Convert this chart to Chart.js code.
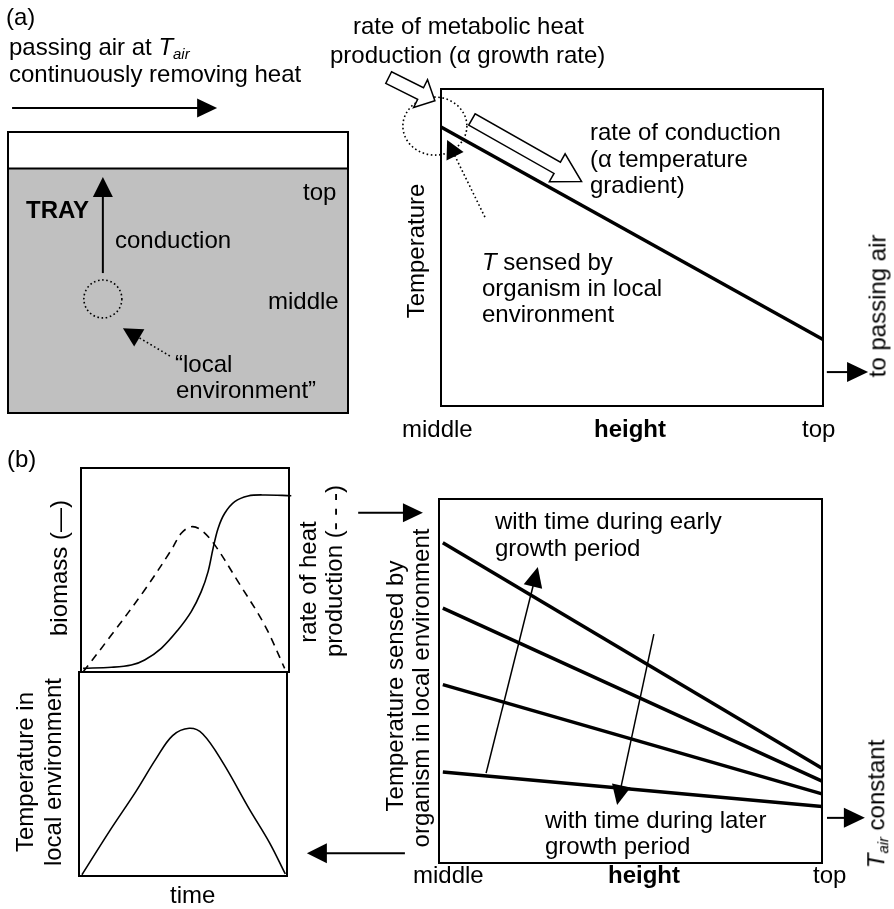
<!DOCTYPE html>
<html lang="en">
<head>
<meta charset="UTF-8">
<title>Heat conduction in a tray bioreactor</title>
<script src="https://cdn.jsdelivr.net/npm/chart.js"></script>
<style>
  body { margin: 0; background: #fff; }
  #fig {
    position: relative; width: 894px; height: 909px; overflow: hidden;
    font-family: "Liberation Sans", Arial, sans-serif; font-size: 24px; color: #000;
  }
  #fig canvas { position: absolute; left: 0; top: 0; }
  .t { position: absolute; white-space: nowrap; line-height: 27px; }
  .v { position: absolute; white-space: nowrap; line-height: 27px;
       transform: translate(-50%, -50%) rotate(-90deg); }
  .b { font-weight: bold; }
  i sub { font-size: 62%; vertical-align: -0.3em; }
</style>
</head>
<body>
<div id="fig">
  <canvas id="tray" width="894" height="909"></canvas>
  <canvas id="profileA" width="894" height="909"></canvas>
  <canvas id="growth" width="894" height="909"></canvas>
  <canvas id="localT" width="894" height="909"></canvas>
  <canvas id="profileB" width="894" height="909"></canvas>

  <!-- (a) -->
  <div class="t" style="left:6px; top:3px">(a)</div>
  <div class="t" style="left:9px; top:33px">passing air at <i>T<sub>air</sub></i></div>
  <div class="t" style="left:9px; top:60px">continuously removing heat</div>
  <div class="t b" style="left:26px; top:196px">TRAY</div>
  <div class="t" style="left:303px; top:178px">top</div>
  <div class="t" style="left:115px; top:226px">conduction</div>
  <div class="t" style="left:268px; top:287px">middle</div>
  <div class="t" style="left:175px; top:350px">&ldquo;local</div>
  <div class="t" style="left:176px; top:376px">environment&rdquo;</div>

  <div class="t" style="left:353px; top:12px">rate of metabolic heat</div>
  <div class="t" style="left:330px; top:41px">production (&alpha; growth rate)</div>
  <div class="t" style="left:590px; top:118px">rate of conduction</div>
  <div class="t" style="left:590px; top:145px">(&alpha; temperature</div>
  <div class="t" style="left:590px; top:171px">gradient)</div>
  <div class="t" style="left:482px; top:248px"><i>T</i> sensed by</div>
  <div class="t" style="left:482px; top:274px">organism in local</div>
  <div class="t" style="left:482px; top:300px">environment</div>
  <div class="v" style="left:415px; top:251px">Temperature</div>
  <div class="v" style="left:877px; top:306px">to passing air</div>
  <div class="t" style="left:402px; top:415px">middle</div>
  <div class="t b" style="left:594px; top:415px">height</div>
  <div class="t" style="left:802px; top:415px">top</div>

  <!-- (b) -->
  <div class="t" style="left:7px; top:445px">(b)</div>
  <div class="v" style="left:58px; top:568px">biomass (&mdash;)</div>
  <div class="v" style="left:307px; top:582px">rate of heat</div>
  <div class="v" style="left:333px; top:571px">production (- - -)</div>
  <div class="v" style="left:24px; top:772px">Temperature in</div>
  <div class="v" style="left:52px; top:772px">local environment</div>
  <div class="t" style="left:170px; top:881px">time</div>

  <div class="t" style="left:495px; top:507px">with time during early</div>
  <div class="t" style="left:495px; top:534px">growth period</div>
  <div class="t" style="left:545px; top:806px">with time during later</div>
  <div class="t" style="left:545px; top:832px">growth period</div>
  <div class="v" style="left:394px; top:686px">Temperature sensed by</div>
  <div class="v" style="left:420px; top:688px">organism in local environment</div>
  <div class="v" style="left:880px; top:804px"><i>T<sub>air</sub></i> constant</div>
  <div class="t" style="left:413px; top:861px">middle</div>
  <div class="t b" style="left:608px; top:861px">height</div>
  <div class="t" style="left:813px; top:861px">top</div>
</div>

<script>
  // ---- values (all axes normalised 0..1) ----
  // (a) tray: level of the solid bed as a fraction of tray depth
  const trayX = [0, 1];
  const trayLevel = [0.87, 0.87];

  // (a) right: temperature against height (middle -> top)
  const heightA = [0, 1];
  const tempA = [0.88, 0.21];

  // (b) upper left: biomass (solid) and rate of heat production (dashed) against time
  const timeBio = [0.01, 0.146, 0.242, 0.306, 0.386, 0.466, 0.530, 0.578, 0.611, 0.635, 0.659, 0.691, 0.739, 0.803, 0.883, 1.011];
  const biomass = [0.018, 0.023, 0.034, 0.059, 0.116, 0.206, 0.296, 0.394, 0.492, 0.606, 0.704, 0.778, 0.835, 0.863, 0.868, 0.864];
  const timeHeat = [0.01, 0.146, 0.306, 0.434, 0.482, 0.530, 0.578, 0.643, 0.755, 0.883, 0.979];
  const heatRate = [0.00, 0.181, 0.402, 0.598, 0.680, 0.712, 0.696, 0.623, 0.443, 0.230, 0.018];

  // (b) lower left: temperature in local environment against time
  const timeT = [0.014, 0.146, 0.274, 0.370, 0.450, 0.530, 0.595, 0.691, 0.819, 0.915, 0.992];
  const tempLocal = [0.006, 0.219, 0.415, 0.574, 0.688, 0.724, 0.696, 0.557, 0.328, 0.165, 0.010];

  // (b) right: temperature profiles at successive times, value at middle and at top
  const heightB = [0.01, 1];
  const profiles = [
    [0.88, 0.26],
    [0.70, 0.225],
    [0.49, 0.19],
    [0.25, 0.155]
  ];

  const W = 894, H = 909;
  const pts = (xs, ys) => xs.map((x, i) => ({ x: x, y: ys[i] }));

  // ---- drawing helpers (positions given in data units, turned into pixels by the scales) ----
  function P(chart, x, y) {
    return [chart.scales.x.getPixelForValue(x), chart.scales.y.getPixelForValue(y)];
  }

  function arrow(ctx, a, b, o) {
    o = Object.assign({ w: 1.5, hl: 20, hw: 20, dash: [] }, o);
    const dx = b[0] - a[0], dy = b[1] - a[1], len = Math.hypot(dx, dy);
    const ux = dx / len, uy = dy / len;
    const bx = b[0] - ux * o.hl, by = b[1] - uy * o.hl;
    ctx.save();
    ctx.strokeStyle = '#000'; ctx.fillStyle = '#000';
    ctx.lineWidth = o.w; ctx.setLineDash(o.dash);
    ctx.beginPath(); ctx.moveTo(a[0], a[1]); ctx.lineTo(bx + ux, by + uy); ctx.stroke();
    ctx.setLineDash([]);
    ctx.beginPath();
    ctx.moveTo(b[0], b[1]);
    ctx.lineTo(bx - uy * o.hw / 2, by + ux * o.hw / 2);
    ctx.lineTo(bx + uy * o.hw / 2, by - ux * o.hw / 2);
    ctx.closePath(); ctx.fill();
    ctx.restore();
  }

  function hollowArrow(ctx, a, b, sw, hw, hl) {
    const dx = b[0] - a[0], dy = b[1] - a[1], len = Math.hypot(dx, dy);
    const ux = dx / len, uy = dy / len, nx = -uy, ny = ux;
    const bx = b[0] - ux * hl, by = b[1] - uy * hl;
    const s = sw / 2, h = hw / 2;
    ctx.save();
    ctx.beginPath();
    ctx.moveTo(a[0] + nx * s, a[1] + ny * s);
    ctx.lineTo(bx + nx * s, by + ny * s);
    ctx.lineTo(bx + nx * h, by + ny * h);
    ctx.lineTo(b[0], b[1]);
    ctx.lineTo(bx - nx * h, by - ny * h);
    ctx.lineTo(bx - nx * s, by - ny * s);
    ctx.lineTo(a[0] - nx * s, a[1] - ny * s);
    ctx.closePath();
    ctx.fillStyle = '#fff'; ctx.fill();
    ctx.lineWidth = 1.5; ctx.strokeStyle = '#000'; ctx.lineJoin = 'miter'; ctx.stroke();
    ctx.restore();
  }

  function dottedRing(ctx, c, rx, ry) {
    ctx.save();
    ctx.beginPath();
    ctx.ellipse(c[0], c[1], rx, ry, 0, 0, Math.PI * 2);
    ctx.setLineDash([1.6, 2.6]); ctx.lineWidth = 1.6; ctx.strokeStyle = '#000';
    ctx.stroke();
    ctx.restore();
  }

  function frame(ctx, area) {
    ctx.save();
    ctx.lineWidth = 2; ctx.strokeStyle = '#000';
    ctx.strokeRect(area.left, area.top, area.right - area.left, area.bottom - area.top);
    ctx.restore();
  }

  function makeChart(id, box, datasets, draw) {
    const [l, t, r, b] = box;
    return new Chart(document.getElementById(id), {
      type: 'line',
      data: { datasets: datasets },
      options: {
        responsive: false,
        animation: false,
        events: [],
        layout: { padding: { left: l, top: t, right: W - r, bottom: H - b } },
        scales: {
          x: { type: 'linear', min: 0, max: 1, display: false },
          y: { type: 'linear', min: 0, max: 1, display: false }
        },
        plugins: { legend: { display: false }, tooltip: { enabled: false } },
        elements: { point: { radius: 0 } }
      },
      plugins: [{
        id: 'decor',
        afterDatasetsDraw(chart) {
          frame(chart.ctx, chart.chartArea);
          draw(chart, chart.ctx);
        }
      }]
    });
  }

  const line = (data, w, extra) => Object.assign({
    data: data, borderColor: '#000', borderWidth: w, fill: false, clip: false,
    tension: 0.35, borderCapStyle: 'butt'
  }, extra || {});

  // (a) left: the tray
  makeChart('tray', [8, 132, 348, 413], [
    line(pts(trayX, trayLevel), 2, { fill: 'origin', backgroundColor: '#c0c0c0', tension: 0 })
  ], (c, ctx) => {
    arrow(ctx, P(c, 0.012, 1.085), P(c, 0.615, 1.085), { w: 2, hl: 20, hw: 19 });
    arrow(ctx, P(c, 0.279, 0.498), P(c, 0.279, 0.840), { w: 2, hl: 20, hw: 20 });
    dottedRing(ctx, P(c, 0.279, 0.406), 19, 19);
    arrow(ctx, P(c, 0.476, 0.203), P(c, 0.338, 0.302), { w: 1.6, hl: 19, hw: 20, dash: [1.6, 2.6] });
  });

  // (a) right: temperature against height
  makeChart('profileA', [441, 89, 823, 406], [
    line(pts(heightA, tempA), 3.5, { tension: 0 })
  ], (c, ctx) => {
    dottedRing(ctx, P(c, -0.016, 0.883), 32, 29);
    hollowArrow(ctx, P(c, -0.137, 1.036), P(c, -0.016, 0.963), 13, 31, 16);
    hollowArrow(ctx, P(c, 0.081, 0.904), P(c, 0.368, 0.708), 13, 32, 28);
    arrow(ctx, P(c, 0.115, 0.596), P(c, 0.016, 0.839), { w: 1.6, hl: 18, hw: 19, dash: [1.6, 2.6] });
    arrow(ctx, P(c, 1.01, 0.107), P(c, 1.118, 0.107), { w: 2, hl: 21, hw: 20 });
  });

  // (b) upper left: biomass and heat production
  makeChart('growth', [81, 468, 289, 672], [
    line(pts(timeBio, biomass), 1.6),
    line(pts(timeHeat, heatRate), 1.6, { borderDash: [8, 6] })
  ], () => {});

  // (b) lower left: local temperature
  makeChart('localT', [79, 672, 287, 876], [
    line(pts(timeT, tempLocal), 1.6)
  ], () => {});

  // (b) right: profiles through time
  makeChart('profileB', [439, 499, 822, 863],
    profiles.map(p => line(pts(heightB, p), 3.5, { tension: 0 })),
    (c, ctx) => {
      arrow(ctx, P(c, 0.123, 0.247), P(c, 0.258, 0.813), { w: 1.5, hl: 20, hw: 19 });
      arrow(ctx, P(c, 0.561, 0.629), P(c, 0.465, 0.159), { w: 1.5, hl: 20, hw: 19 });
      arrow(ctx, P(c, -0.211, 0.962), P(c, -0.042, 0.962), { w: 2, hl: 20, hw: 19 });
      arrow(ctx, P(c, -0.089, 0.027), P(c, -0.345, 0.027), { w: 2, hl: 20, hw: 20 });
      arrow(ctx, P(c, 1.013, 0.124), P(c, 1.112, 0.124), { w: 2, hl: 21, hw: 20 });
    });
</script>
</body>
</html>
